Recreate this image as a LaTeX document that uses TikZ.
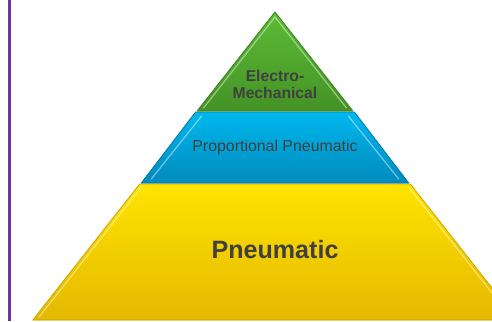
\documentclass[tikz,border=0pt]{standalone}
\usepackage{fontspec}
\setmainfont{Liberation Sans}
\usepackage{tikz}
\usetikzlibrary{shadings}
\usepackage{color}
\definecolor{leafgreen}{RGB}{92, 188, 52}
\definecolor{mossgreen}{RGB}{68, 146, 38}
\definecolor{skyblue}{RGB}{0, 184, 238}
\definecolor{deepblue}{RGB}{0, 138, 188}
\definecolor{sunyellow}{RGB}{255, 228, 0}
\definecolor{goldyellow}{RGB}{228, 184, 0}
\definecolor{framepurple}{RGB}{112, 52, 160}
\definecolor{labelgray}{RGB}{64, 64, 64}

\tikzset{
  tier/.style={line width=0.8pt, line join=round},
  bevel/.style={white, opacity=0.45, line width=1.2pt, line cap=round},
  tierlabel/.style={text=labelgray, align=center, inner sep=0pt}
}

\begin{document}
\begin{tikzpicture}[x=1pt, y=-1pt]
            % Frame to ensure alignment:
            \clip (0, 0) rectangle (492, 321);
            \fill[white] (0, 0) rectangle (492, 321);
            \draw[color=framepurple, line width=3pt]                       (  9.0,   0.0) --    (  9.0, 321.0);
            % Tiers, bottom to top:
            \filldraw[tier, color=goldyellow!90!black, top color=sunyellow,  bottom color=goldyellow]
                 (139.7, 184.0) -- (410.3, 184.0) -- (517.2, 320.0) -- ( 32.8, 320.0) -- cycle;
            \filldraw[tier, color=deepblue!90!black,   top color=skyblue,    bottom color=deepblue]
                 (195.6, 112.0) -- (354.4, 112.0) -- (408.7, 183.0) -- (141.3, 183.0) -- cycle;
            \filldraw[tier, color=mossgreen!90!black,  top color=leafgreen,  bottom color=mossgreen]
                 (275.0,  12.0) -- (352.9, 111.0) -- (197.1, 111.0) -- cycle;
            % Bevel highlights:
            \draw[bevel] (203.5, 108.0) -- (275.0,  17.0) -- (346.5, 108.0);
            \draw[bevel] (151.3, 179.0) -- (201.6, 116.0);
            \draw[bevel] (398.7, 179.0) -- (348.4, 116.0);
            \draw[bevel] ( 39.1, 317.0) -- (141.4, 187.0);
            \draw[bevel] (510.9, 317.0) -- (408.6, 187.0);
            % Labels:
            \node[tierlabel, font=\bfseries\fontsize{15.7}{16.5}\selectfont] (electro)  at (275.0,  84.5) {Electro-\\Mechanical};
            \node[tierlabel, font=\fontsize{15.9}{18}\selectfont]             (proport)  at (275.0, 147.0) {Proportional Pneumatic};
            \node[tierlabel, font=\bfseries\fontsize{25.1}{28}\selectfont]    (pneumat)  at (275.0, 250.0) {Pneumatic};
        \end{tikzpicture}
\end{document}
